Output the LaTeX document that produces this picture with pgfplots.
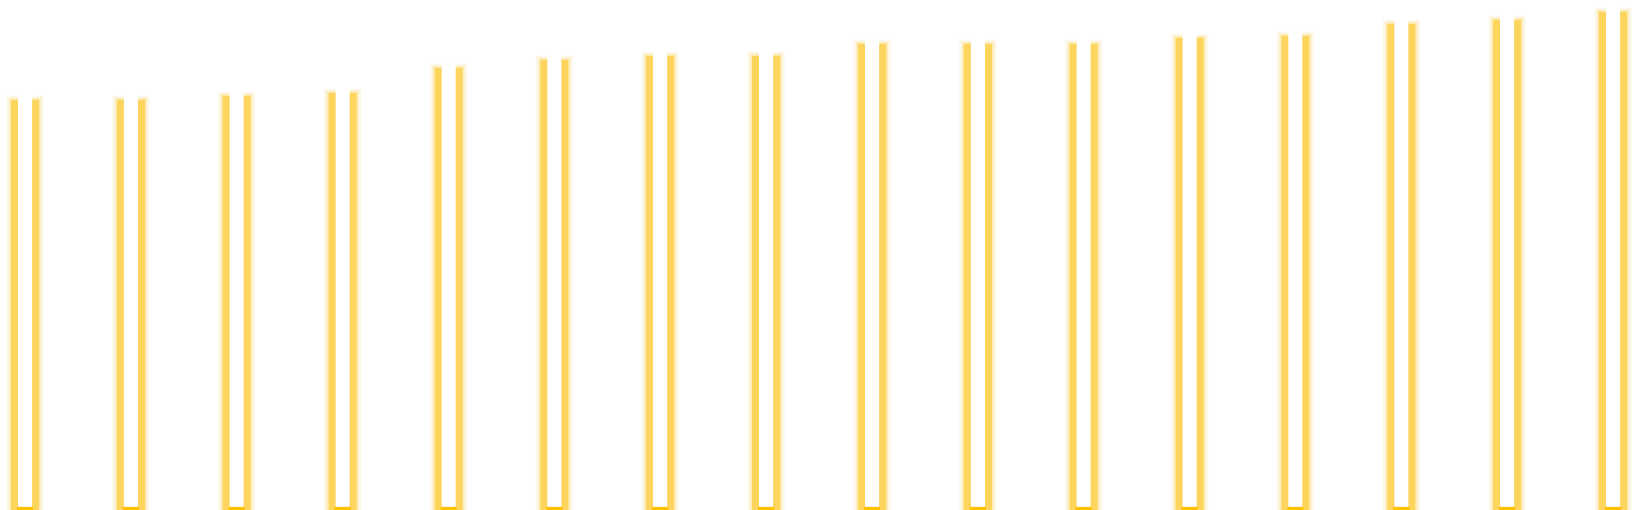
\documentclass[border=0pt]{standalone}
\usepackage{pgfplots}
\usepackage{pgfplotstable}
\pgfplotsset{compat=1.18}
\definecolor{gold}{HTML}{FFC000}
\definecolor{haze}{HTML}{E8C860}

% bar centre (px) and height (px above the base)
\pgfplotstableread{
x      h
25     410
130.9  410
236.7  414
342.6  417
448.5  442
554.4  450
660.2  454
766.1  454
872.0  466
977.8  466
1083.7 466
1189.6 472
1295.4 474
1401.3 486
1507.2 490
1613.0 498
}\bars

\begin{document}
\begin{tikzpicture}
  \begin{axis}[
      width=164mm, height=51mm,
      scale only axis,
      hide axis,
      xmin=0, xmax=1640,
      ymin=0, ymax=510,
      ybar, bar shift=0pt,
      clip=false,
    ]
    % soft halo
    \addplot[draw=none, fill=haze, fill opacity=0.15, bar width=3.7mm] table[x=x, y expr=\thisrow{h}+4] {\bars};
    \addplot[draw=none, fill=gold, fill opacity=0.2, bar width=3.2mm] table[x=x, y expr=\thisrow{h}+2] {\bars};
    % dense edge
    \addplot[draw=none, fill=gold, fill opacity=0.5, bar width=2.8mm] table[x=x, y=h] {\bars};
    % white core
    \addplot[draw=none, fill=white, bar width=1.4mm] table[x=x, y expr=\thisrow{h}+6] {\bars};
    % base line
    \addplot[draw=none, fill=gold, bar width=1.6mm] table[x=x, y expr=3] {\bars};
  \end{axis}
  \pgfresetboundingbox
  \path (current axis.south west) rectangle (current axis.north east);
\end{tikzpicture}
\end{document}
